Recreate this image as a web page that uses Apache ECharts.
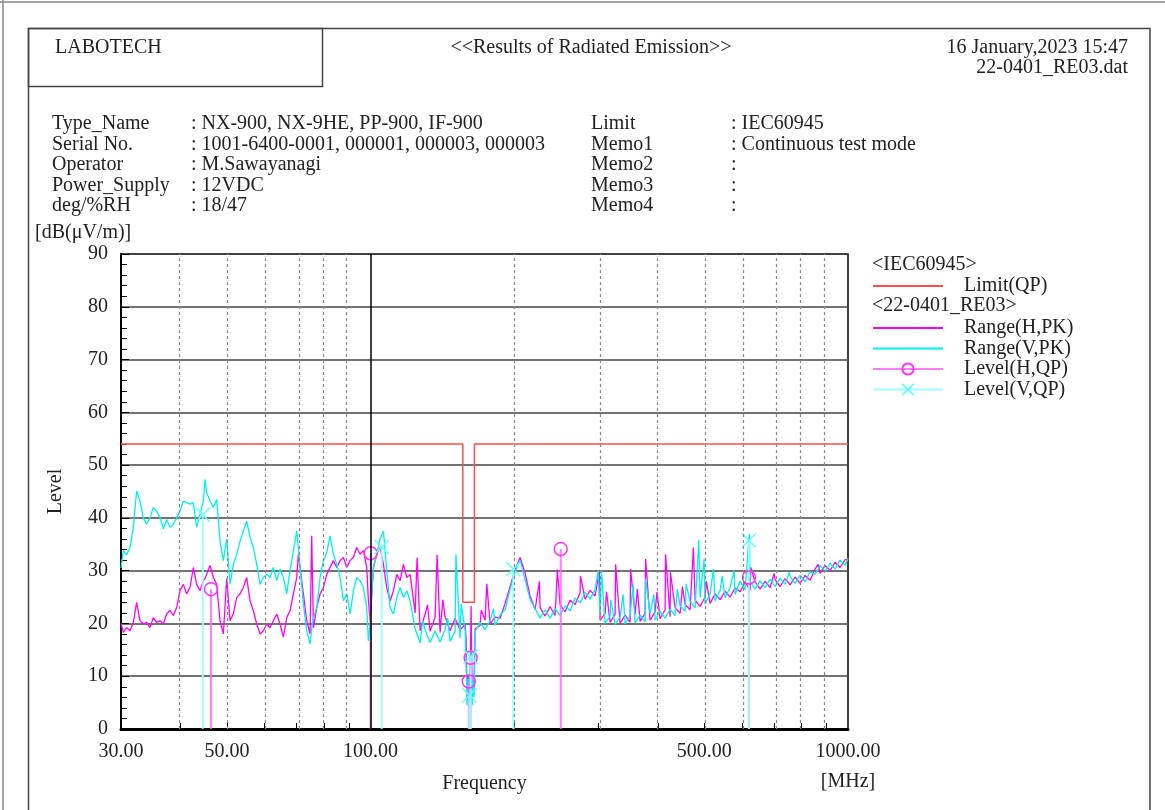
<!DOCTYPE html>
<html><head><meta charset="utf-8">
<script src="https://cdn.jsdelivr.net/npm/echarts@6/dist/echarts.min.js"></script>
<style>html,body{margin:0;padding:0;background:#fff}#chart{width:1165px;height:810px}</style>
</head><body><div id="chart"></div>
<script>
// ---------- DATA ----------
// shared frequency grid (MHz) for the two peak traces
const freqMHz = [30.00,30.34,30.83,31.33,31.84,32.35,32.88,33.41,33.95,34.50,35.06,35.63,36.21,36.80,37.39,38.00,38.61,39.24,39.88,40.52,41.18,41.85,42.53,43.22,43.92,44.63,44.99,45.35,46.09,46.84,47.60,48.37,49.15,49.95,50.76,51.58,52.42,53.27,54.13,55.01,55.90,56.81,57.73,58.67,59.62,60.58,61.56,62.56,63.58,64.61,65.66,66.72,67.80,68.90,70.02,70.58,71.16,72.31,73.48,74.67,75.27,75.89,77.12,78.37,79.64,80.93,82.24,83.57,84.93,86.31,87.71,89.13,90.57,92.04,93.53,95.05,96.59,98.16,98.94,99.75,101.37,103.01,104.68,106.38,108.10,109.86,111.64,113.45,115.29,117.16,119.06,120.99,
123.94,126.97,130.07,133.24,136.49,139.82,143.23,146.73,150.31,153.98,157.74,158.50,159.27,160.04,160.81,161.59,162.37,163.16,163.95,164.74,165.53,169.57,173.71,177.95,182.29,186.74,191.30,195.97,200.75,205.65,210.67,215.81,221.08,226.48,232.01,237.67,243.47,249.41,255.50,261.74,268.13,274.67,281.38,288.25,295.28,302.49,309.87,317.44,325.19,333.12,341.25,349.58,358.12,366.86,375.81,384.98,394.38,404.01,413.87,423.97,434.32,444.92,455.78,466.91,478.30,489.98,501.94,514.19,526.74,539.60,552.77,566.26,580.08,594.24,608.75,623.61,638.83,654.42,670.39,686.75,703.51,720.68,738.27,756.29,774.75,793.66,813.03,832.87,853.20,874.03,895.36,917.21,939.60,962.53,986.02,1000];

// Range(H,PK) in dB(uV/m)
const rangeH = [20.0,18.3,19.2,18.6,20.2,24.0,20.5,19.9,20.2,19.2,21.1,20.2,20.5,19.9,21.8,22.5,21.5,23.0,26.2,27.4,25.6,26.8,30.6,27.4,26.2,28.1,28.5,28.7,31.0,28.7,27.4,20.5,18.0,28.5,20.5,21.8,24.9,25.6,26.8,28.7,24.3,22.4,19.9,18.0,18.6,19.9,19.2,20.5,21.8,19.9,17.4,21.1,22.4,25.6,28.7,33.1,30.6,25.6,20.5,18.0,36.6,19.2,23.0,25.6,26.8,29.3,30.6,31.9,30.6,31.9,32.5,30.6,31.9,32.5,34.4,33.1,33.8,30.6,24.3,20.5,30.6,33.1,34.4,31.2,26.8,24.3,26.2,29.3,28.1,31.2,28.7,29.3,
22.0,18.6,21.8,18.5,21.2,18.3,21.3,18.6,21.0,18.8,19.8,17.0,6.0,10.0,5.5,9.0,23.3,6.0,8.0,9.5,19.0,19.6,20.6,19.9,21.2,21.0,23.8,27.0,30.2,32.5,29.5,25.2,22.6,23.0,21.4,23.2,21.5,23.5,22.2,24.4,23.6,25.8,24.6,26.3,25.2,20.6,21.9,20.2,21.7,20.0,21.6,20.2,21.7,20.4,21.9,20.6,22.2,20.9,22.6,21.3,23.0,21.9,23.6,22.6,24.4,23.2,25.0,23.8,25.6,24.5,26.1,25.0,26.7,26.0,27.8,26.3,27.9,26.5,28.0,26.8,28.3,27.0,28.5,27.3,28.8,27.6,29.1,28.2,30.3,29.5,31.0,30.0,31.6,30.6,32.1,32.1];

// Range(V,PK) in dB(uV/m)
const rangeV = [30.5,33.8,33.0,34.4,38.2,45.1,43.2,40.0,38.8,40.0,42.0,41.3,40.0,37.9,39.7,38.2,38.8,40.0,41.3,43.2,42.9,42.6,42.9,38.2,40.7,43.2,47.3,44.8,43.2,42.0,43.5,35.6,31.9,36.0,27.4,31.2,33.1,35.6,37.5,39.4,36.3,34.4,31.2,27.4,28.7,29.3,28.7,30.6,28.1,30.3,28.7,25.6,30.0,33.8,37.5,34.4,30.6,23.7,18.6,16.1,19.0,21.0,23.0,28.7,31.9,33.4,36.6,33.1,31.2,28.7,24.3,25.6,21.8,26.2,28.7,28.1,26.8,23.0,16.7,20.0,30.6,33.1,36.0,37.5,30.0,23.0,21.8,24.9,26.8,24.9,26.2,24.3,
19.0,16.3,18.8,16.4,18.6,16.5,18.9,16.6,18.5,17.2,18.8,12.0,4.5,9.5,4.0,10.0,15.0,4.5,9.0,6.0,18.5,20.2,18.8,20.6,19.6,21.6,22.6,26.5,29.8,32.0,28.3,24.5,22.8,21.0,22.6,21.0,22.8,21.5,23.3,22.4,24.8,23.9,25.9,24.6,26.4,21.6,20.0,21.4,19.8,21.2,19.9,21.5,20.1,21.6,20.3,21.9,20.6,22.3,21.0,22.7,21.5,23.3,22.3,24.2,22.9,24.9,23.7,25.6,24.3,26.2,24.9,26.8,25.5,28.0,26.4,28.0,26.5,28.1,26.8,28.4,27.0,28.6,27.4,28.9,27.6,29.1,27.9,29.8,29.3,31.0,29.9,31.4,30.3,32.0,31.0,32.3];

// narrow peaks
const spikeHFreq = [125.14,131.6,137.81,141.7,170.5,175.14,225.72,246.19,275.1,301.47,312.0,326.0,350.4,362.0,376.7,398.0,414.8,424.6,450.0,474.4,505.0,625.7,700.0,865.7];
const spikeH     = [32.5,23.5,33.0,24.5,22.5,27.5,28.0,30.2,29.0,30.0,26.0,31.2,30.3,26.5,32.2,26.0,33.1,29.7,27.0,34.4,28.0,30.6,29.5,31.2];
const spikeVFreq = [128.5,145.0,150.9,154.72,181.0,299.58,304.40,318.5,338.0,354.67,376.7,392.0,439.17,458.0,486.91,499.53,522.44,545.0,577.29,621.51,753.74];
const spikeV     = [20.5,21.0,33.1,23.7,22.8,30.0,30.0,24.5,25.5,27.4,28.4,25.5,26.5,27.5,35.8,32.2,30.3,29.0,30.0,37.0,29.7];

// limit line IEC60945 (QP)
const limitFreq = [30,156,156,165,165,1000];
const limitQP   = [54,54,24,24,54,54];

// quasi-peak levels
const levelHFreq = [46.3,100.0,160.6,162.0,250.2,620.0];
const levelH     = [26.5,33.3,9.0,13.5,34.1,28.7];
const levelVFreq = [44.5,105.5,161.0,162.0,199.0,620.0];
const levelV     = [40.6,34.5,6.4,13.7,30.3,35.7];

// axis ticks
const xLabelFreqs = [30,50,100,500,1000];
const xTickFreqs  = [40,50,60,70,80,90,100,200,300,400,500,600,700,800,900];
const xDottedGrid = [40,50,60,70,80,90,200,300,400,500,600,700,800,900];
const xSolidGrid  = [100];

// ---------- BUILD ----------
const L = Math.log10;
const FONT = '"Liberation Serif","DejaVu Serif",serif';
const TXT = '#222';
const NOFILL = 'rgba(0,0,0,0)';
function trace(fr, vals, sf, sv) {
  const pts = fr.map((f, i) => [f, vals[i]]).concat(sf.map((f, i) => [f, sv[i]]));
  pts.sort((a, b) => a[0] - b[0]);
  return pts.map(p => [L(p[0]), p[1]]);
}
function stems(fr, vals) {
  const out = [];
  fr.forEach((f, i) => {
    out.push({ value: [L(f), 0], symbol: 'none' });
    out.push({ value: [L(f), vals[i]] });
    out.push({ value: [L(f), '-'], symbol: 'none' });
  });
  return out;
}
function t(text, x, y, align) {
  return { type: 'text', x: x, y: y, silent: true,
    style: { text: text, font: '20px ' + FONT, fill: TXT, align: align || 'left', verticalAlign: 'middle' } };
}
function ln(x1, y1, x2, y2, c, w) {
  return { type: 'line', silent: true, shape: { x1, y1, x2, y2 }, style: { stroke: c, lineWidth: w } };
}

const graphics = [
  ln(0, 2, 1165, 2, '#888', 1.5),
  ln(3, 0, 3, 810, '#888', 1.5),
  { type: 'rect', silent: true, shape: { x: 28.5, y: 28.5, width: 1121.5, height: 820 }, style: { fill: 'none', stroke: '#444', lineWidth: 1.5 } },
  { type: 'rect', silent: true, shape: { x: 28.5, y: 28.5, width: 294, height: 58 }, style: { fill: 'none', stroke: '#444', lineWidth: 1.5 } },
  t('LABOTECH', 55, 48),
  t('<<Results of Radiated Emission>>', 591, 48, 'center'),
  t('16 January,2023 15:47', 1128, 48, 'right'),
  t('22-0401_RE03.dat', 1128, 68, 'right'),
  t('Type_Name', 52, 124), t(': NX-900, NX-9HE, PP-900, IF-900', 191, 124),
  t('Serial No.', 52, 144.5), t(': 1001-6400-0001, 000001, 000003, 000003', 191, 144.5),
  t('Operator', 52, 165), t(': M.Sawayanagi', 191, 165),
  t('Power_Supply', 52, 185.5), t(': 12VDC', 191, 185.5),
  t('deg/%RH', 52, 206), t(': 18/47', 191, 206),
  t('Limit', 591, 124), t(': IEC60945', 731, 124),
  t('Memo1', 591, 144.5), t(': Continuous test mode', 731, 144.5),
  t('Memo2', 591, 165), t(':', 731, 165),
  t('Memo3', 591, 185.5), t(':', 731, 185.5),
  t('Memo4', 591, 206), t(':', 731, 206),
  t('[dB(\u03bcV/m)]', 35, 233),
  t('[MHz]', 848, 782, 'center'),
  t('<IEC60945>', 872, 265),
  t('<22-0401_RE03>', 872, 306)
];

const legendText = { fontFamily: FONT, fontSize: 20, color: TXT, padding: [0, 0, 0, 16] };
const markData = xDottedGrid.map(f => ({ xAxis: L(f) }))
  .concat(xSolidGrid.map(f => ({ xAxis: L(f), lineStyle: { type: 'solid', color: '#000', width: 1.5 } })));

const option = {
  animation: false,
  backgroundColor: '#fff',
  graphic: graphics,
  legend: [
    { data: ['Limit(QP)'], left: 867, top: 271, itemWidth: 70, itemHeight: 14, selectedMode: false, textStyle: legendText },
    { data: ['Range(H,PK)', 'Range(V,PK)', 'Level(H,QP)', 'Level(V,QP)'], orient: 'vertical', left: 867, top: 313,
      itemWidth: 70, itemHeight: 14, itemGap: 0.5, selectedMode: false, textStyle: legendText }
  ],
  grid: { left: 121, top: 254, width: 727, height: 475, show: true, borderColor: '#000', borderWidth: 1.5, backgroundColor: 'transparent' },
  xAxis: {
    type: 'value', min: L(30), max: 3,
    name: 'Frequency', nameLocation: 'middle', nameGap: 45,
    nameTextStyle: { fontFamily: FONT, fontSize: 20, color: TXT },
    axisLine: { show: true, lineStyle: { color: '#000', width: 3 } },
    axisTick: { show: true, inside: true, length: 6, customValues: xTickFreqs.map(L), lineStyle: { color: '#000', width: 1 } },
    axisLabel: { customValues: xLabelFreqs.map(L), showMinLabel: true, showMaxLabel: true,
      formatter: v => Math.round(Math.pow(10, v)).toFixed(2),
      fontFamily: FONT, fontSize: 20, color: TXT, margin: 13 },
    splitLine: { show: false }
  },
  yAxis: {
    type: 'value', min: 0, max: 90, interval: 10,
    name: 'Level', nameLocation: 'middle', nameGap: 55, nameRotate: 90,
    nameTextStyle: { fontFamily: FONT, fontSize: 20, color: TXT },
    axisLine: { show: true, lineStyle: { color: '#000', width: 2 } },
    axisTick: { show: true, inside: true, length: 8, lineStyle: { color: '#000' } },
    minorTick: { show: true, splitNumber: 5, length: 6, lineStyle: { color: '#000' } },
    splitLine: { show: true, lineStyle: { color: '#444', width: 1.5 } },
    axisLabel: { fontFamily: FONT, fontSize: 20, color: TXT, margin: 13 }
  },
  series: [
    { type: 'line', name: 'Limit(QP)', data: limitFreq.map((f, i) => [L(f), limitQP[i]]),
      symbol: 'none', itemStyle: { color: NOFILL }, lineStyle: { color: '#ff4d4d', width: 1.5 },
      markLine: { silent: true, symbol: 'none', label: { show: false },
        lineStyle: { type: [3, 3], color: '#888', width: 1.2 }, data: markData } },
    { type: 'line', name: 'Range(H,PK)', data: trace(freqMHz, rangeH, spikeHFreq, spikeH),
      symbol: 'none', itemStyle: { color: NOFILL }, lineStyle: { color: '#ff00ff', width: 1.3 } },
    { type: 'line', name: 'Range(V,PK)', data: trace(freqMHz, rangeV, spikeVFreq, spikeV),
      symbol: 'none', itemStyle: { color: NOFILL }, lineStyle: { color: '#00f0f0', width: 1.3 } },
    { type: 'line', name: 'Level(H,QP)', data: stems(levelHFreq, levelH), connectNulls: false,
      symbol: 'circle', symbolSize: 13, showAllSymbol: true,
      itemStyle: { color: NOFILL, borderColor: '#ff33ff', borderWidth: 1.5 },
      lineStyle: { color: '#ff66ff', width: 2, opacity: 0.85 } },
    { type: 'line', name: 'Level(V,QP)', data: stems(levelVFreq, levelV), connectNulls: false,
      symbol: 'path://M0,0L10,10M10,0L0,10', symbolSize: 14, showAllSymbol: true,
      itemStyle: { color: NOFILL, borderColor: '#66ffff', borderWidth: 1.5 },
      lineStyle: { color: '#99ffff', width: 2, opacity: 0.9 } }
  ]
};
echarts.init(document.getElementById('chart'), null, { renderer: 'canvas' }).setOption(option);
</script></body></html>
